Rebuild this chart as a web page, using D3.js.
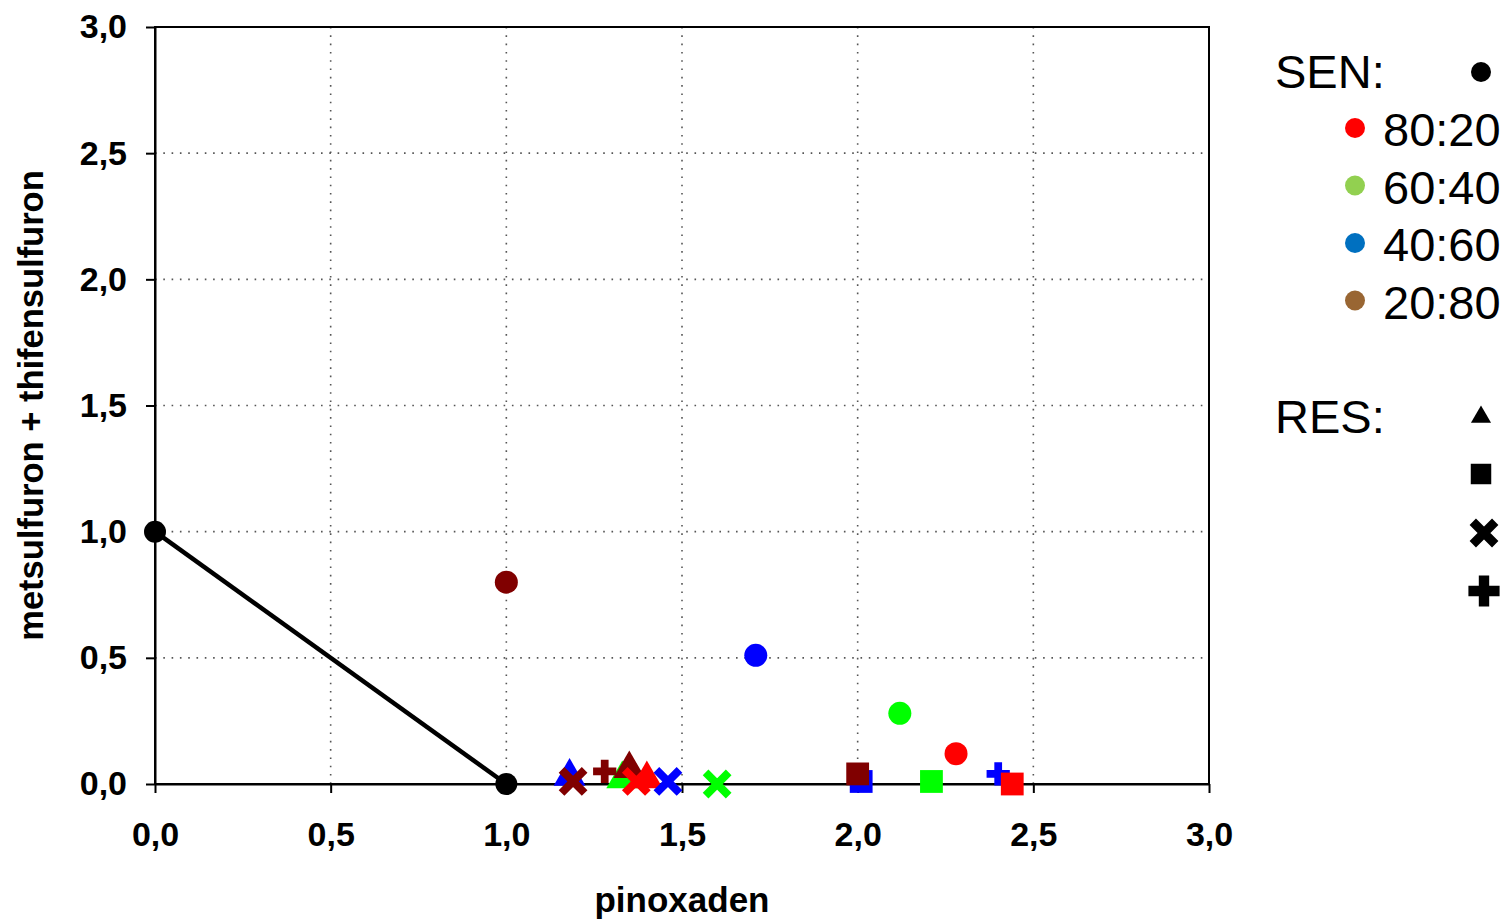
<!DOCTYPE html>
<html>
<head>
<meta charset="utf-8">
<script src="https://cdn.jsdelivr.net/npm/d3@7"></script>
<style>
  body { margin: 0; background: #fff; }
  svg { font-family: "Liberation Sans", Arial, sans-serif; }
  .axis text { font-size: 34px; font-weight: bold; fill: #000; }
  .axis path, .axis line { stroke: #000; stroke-width: 2; }
</style>
</head>
<body>
<svg id="chart" width="1509" height="921"></svg>
<script>
// ratios (SEN color groups), plot colours and legend colours
const ratios = ['80:20', '60:40', '40:60', '20:80'];
const colors = ['#ff0000', '#00ff00', '#0000ff', '#800000'];
const legendColors = ['#ff0000', '#92d050', '#0070c0', '#996633'];

// SEN isobole end points
const senLineX = [0, 1];
const senLineY = [1, 0];

// SEN mixtures (circles)
const senX = [2.28, 2.12, 1.71, 1.00];
const senY = [0.12, 0.28, 0.51, 0.80];

// RES mixtures, one value per ratio (null = not shown)
const triX = [1.40, 1.33, 1.18, 1.35];
const triY = [0.02, 0.02, 0.03, 0.06];
const squareX = [2.44, 2.21, 2.01, 2.00];
const squareY = [0.00, 0.01, 0.01, 0.04];
const timesX = [1.37, 1.60, 1.46, 1.19];
const timesY = [0.01, 0.00, 0.01, 0.01];
const plusX = [null, null, 2.40, 1.28];
const plusY = [null, null, 0.04, 0.05];

const tickValues = [0, 0.5, 1, 1.5, 2, 2.5, 3];

const margin = { top: 27, right: 300, bottom: 137, left: 155 };
const width = 1509 - margin.left - margin.right;   // 1054
const height = 921 - margin.top - margin.bottom;    // 757

const svg = d3.select('#chart');
const chart = svg.append('g')
  .attr('transform', `translate(${margin.left}, ${margin.top})`);

const x = d3.scaleLinear().domain([0, 3]).range([0, width]);
const y = d3.scaleLinear().domain([0, 3]).range([height, 0]);

const fmt = d => d3.format('.1f')(d).replace('.', ',');

// gridlines
const grid = chart.append('g')
  .attr('stroke', '#555')
  .attr('stroke-width', 1.6)
  .attr('stroke-dasharray', '1.6,6.7');
grid.selectAll('.gx')
  .data(tickValues.filter(d => d > 0 && d < 3))
  .enter().append('line')
  .attr('x1', d => x(d)).attr('x2', d => x(d))
  .attr('y1', 0).attr('y2', height);
grid.selectAll('.gy')
  .data(tickValues.filter(d => d > 0 && d < 3))
  .enter().append('line')
  .attr('y1', d => y(d)).attr('y2', d => y(d))
  .attr('x1', 0).attr('x2', width);

// frame
chart.append('rect')
  .attr('width', width).attr('height', height)
  .attr('fill', 'none').attr('stroke', '#000').attr('stroke-width', 2);

chart.append('g')
  .attr('class', 'axis')
  .attr('transform', `translate(0, ${height})`)
  .call(d3.axisBottom(x).tickValues(tickValues).tickFormat(fmt)
    .tickSize(9).tickSizeOuter(0).tickPadding(29));

chart.append('g')
  .attr('class', 'axis')
  .call(d3.axisLeft(y).tickValues(tickValues).tickFormat(fmt)
    .tickSize(9).tickSizeOuter(0).tickPadding(19));

// axis titles
svg.append('text')
  .attr('x', margin.left + x(1.5)).attr('y', 912)
  .attr('text-anchor', 'middle')
  .style('font-size', '35px').style('font-weight', 'bold')
  .text('pinoxaden');

svg.append('text')
  .attr('transform', `translate(43, ${margin.top + y(1.5)}) rotate(-90)`)
  .attr('text-anchor', 'middle')
  .style('font-size', '34.5px').style('font-weight', 'bold')
  .text('metsulfuron + thifensulfuron');

// SEN line
const senPts = senLineX.map((v, i) => [v, senLineY[i]]);
chart.append('path')
  .datum(senPts)
  .attr('fill', 'none').attr('stroke', '#000').attr('stroke-width', 4.5)
  .attr('d', d3.line().x(d => x(d[0])).y(d => y(d[1])));
chart.selectAll('.sen-end')
  .data(senPts)
  .enter().append('circle')
  .attr('cx', d => x(d[0])).attr('cy', d => y(d[1]))
  .attr('r', 11).attr('fill', '#000');

// helper to draw one marker group
const drawOrder = [1, 2, 0, 3]; // green, blue, red, maroon
function markers(xs, ys, shape, opts) {
  const pts = drawOrder
    .filter(i => xs[i] != null)
    .map(i => ({ x: xs[i], y: ys[i], c: colors[i] }));
  const g = chart.append('g');
  const sel = g.selectAll('path')
    .data(pts)
    .enter().append('path')
    .attr('transform', d => `translate(${x(d.x)}, ${y(d.y)})`)
    .attr('d', d3.symbol().type(shape).size(opts.size));
  if (opts.stroke) {
    sel.attr('fill', 'none').attr('stroke', d => d.c).attr('stroke-width', opts.stroke);
  } else {
    sel.attr('fill', d => d.c);
  }
}

markers(triX, triY, d3.symbolTriangle, { size: 440 });
markers(plusX, plusY, d3.symbolCross, { size: 300 });
markers(squareX, squareY, d3.symbolSquare, { size: 520 });
markers(timesX, timesY, d3.symbolTimes, { size: 350, stroke: 8 });

// SEN circles
chart.append('g').selectAll('circle')
  .data(drawOrder.map(i => ({ x: senX[i], y: senY[i], c: colors[i] })))
  .enter().append('circle')
  .attr('cx', d => x(d.x)).attr('cy', d => y(d.y))
  .attr('r', 11.5).attr('fill', d => d.c);

// legend
const legend = svg.append('g').style('font-size', '47px');
legend.append('text').attr('x', 1275).attr('y', 88).text('SEN:');
legend.append('circle').attr('cx', 1481).attr('cy', 72).attr('r', 10).attr('fill', '#000');

ratios.forEach((r, i) => {
  const cy = 128 + i * 57.5;
  legend.append('circle').attr('cx', 1355).attr('cy', cy).attr('r', 10).attr('fill', legendColors[i]);
  legend.append('text').attr('x', 1383).attr('y', cy + 18).text(r);
});

legend.append('text').attr('x', 1275).attr('y', 433).text('RES:');
const resShapes = [
  { type: d3.symbolTriangle, size: 175, cx: 1481, cy: 417 },
  { type: d3.symbolSquare, size: 420, cx: 1481, cy: 474 },
  { type: d3.symbolTimes, size: 330, cx: 1484, cy: 533, stroke: 9 },
  { type: d3.symbolCross, size: 540, cx: 1484, cy: 591 }
];
resShapes.forEach(s => {
  const p = legend.append('path')
    .attr('transform', `translate(${s.cx}, ${s.cy})`)
    .attr('d', d3.symbol().type(s.type).size(s.size));
  if (s.stroke) p.attr('fill', 'none').attr('stroke', '#000').attr('stroke-width', s.stroke);
  else p.attr('fill', '#000');
});
</script>
</body>
</html>
